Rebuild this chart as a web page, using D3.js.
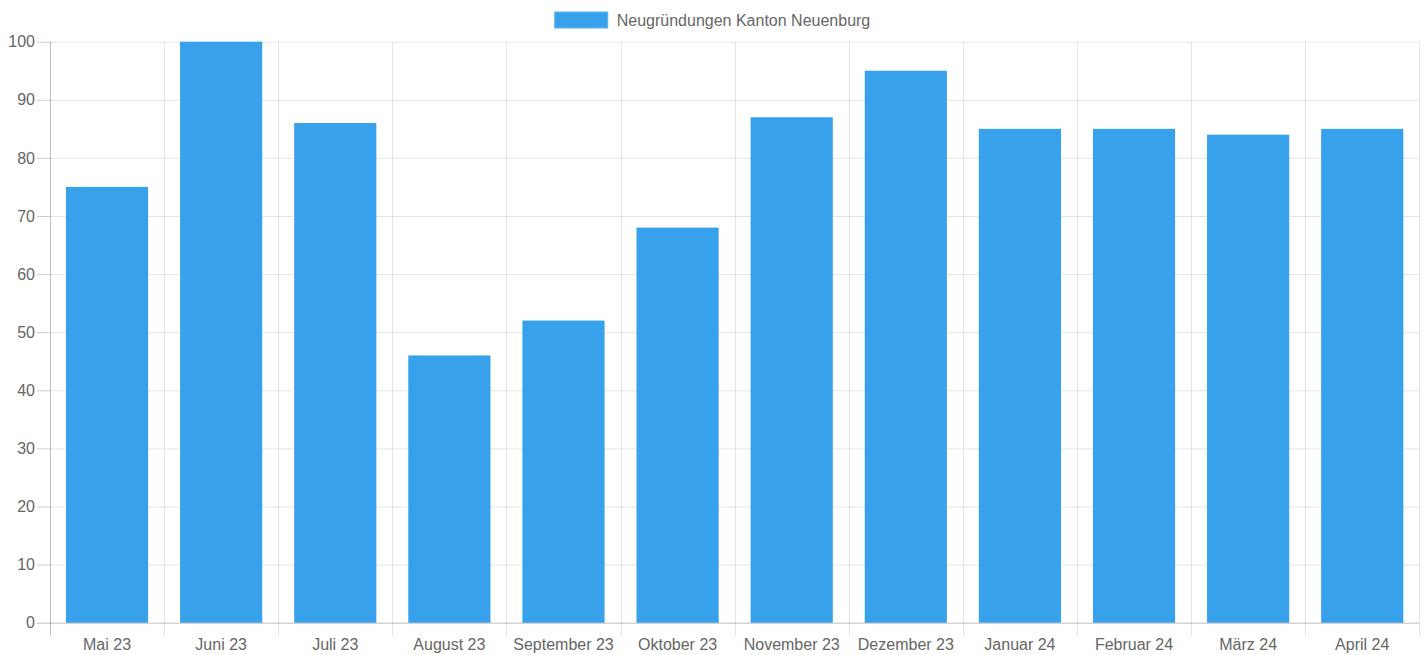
<!DOCTYPE html>
<html>
<head>
<meta charset="utf-8">
<script src="https://cdn.jsdelivr.net/npm/d3@7"></script>
<style>
  body { margin: 0; background: #fff; }
  svg { display: block; font-family: "Helvetica Neue", Helvetica, Arial, "Liberation Sans", sans-serif; }
</style>
</head>
<body>
<svg id="chart" width="1425" height="655"></svg>
<script>
const months = ['Mai 23', 'Juni 23', 'Juli 23', 'August 23', 'September 23', 'Oktober 23',
  'November 23', 'Dezember 23', 'Januar 24', 'Februar 24', 'März 24', 'April 24']
const counts = [75, 100, 86, 46, 52, 68, 87, 95, 85, 85, 84, 85]
const yTicks = [0, 10, 20, 30, 40, 50, 60, 70, 80, 90, 100]
const seriesName = 'Neugründungen Kanton Neuenburg'

const W = 1425
const H = 655
const margin = { top: 41.7, right: 5.7, bottom: 32.3, left: 50 }
const w = W - margin.left - margin.right
const h = H - margin.top - margin.bottom
const barColor = '#37a2eb'
const gridColor = 'rgba(0,0,0,0.1)'
const axisColor = 'rgba(0,0,0,0.25)'
const textColor = '#666'

const svg = d3.select('#chart')
const g = svg.append('g').attr('transform', `translate(${margin.left},${margin.top})`)

const x = d3.scaleBand().domain(months).range([0, w]).padding(0)
const y = d3.scaleLinear().domain([0, 100]).range([h, 0])

// 水平网格线
g.append('g')
  .selectAll('line')
  .data(yTicks.filter(t => t !== 0))
  .enter()
  .append('line')
  .attr('x1', -13)
  .attr('x2', w)
  .attr('y1', d => y(d) + 0.5)
  .attr('y2', d => y(d) + 0.5)
  .attr('stroke', gridColor)

// 垂直网格线（类别边界）
const bounds = months.map(m => x(m)).concat([w])
g.append('g')
  .selectAll('line')
  .data(bounds.slice(1))
  .enter()
  .append('line')
  .attr('x1', d => Math.round(d) + 0.5)
  .attr('x2', d => Math.round(d) + 0.5)
  .attr('y1', 0)
  .attr('y2', h + 13)
  .attr('stroke', gridColor)

// 柱子
g.append('g')
  .selectAll('rect')
  .data(counts)
  .enter()
  .append('rect')
  .attr('x', (d, i) => x(months[i]) + x.bandwidth() * 0.14)
  .attr('width', x.bandwidth() * 0.72)
  .attr('y', d => y(d))
  .attr('height', d => h - y(d))
  .attr('fill', barColor)

// 坐标轴
const yAxis = g.append('g')
  .call(d3.axisLeft(y).tickValues(yTicks).tickSize(13).tickPadding(2))
yAxis.select('.domain').remove()
yAxis.selectAll('.tick line').attr('stroke', gridColor)
yAxis.selectAll('.tick').filter(d => d === 0).select('line').attr('stroke', axisColor)
yAxis.selectAll('text')
  .attr('fill', textColor)
  .attr('font-size', 16)
  .attr('font-family', null)

g.append('line')
  .attr('x1', 0.5).attr('x2', 0.5)
  .attr('y1', 0).attr('y2', h + 13)
  .attr('stroke', axisColor)
g.append('line')
  .attr('x1', 0).attr('x2', w)
  .attr('y1', h + 0.5).attr('y2', h + 0.5)
  .attr('stroke', axisColor)

const xAxis = g.append('g')
  .attr('transform', `translate(0,${h})`)
  .call(d3.axisBottom(x).tickSize(0).tickPadding(16))
xAxis.select('.domain').remove()
xAxis.selectAll('text')
  .attr('fill', textColor)
  .attr('font-size', 16)
  .attr('font-family', null)

// 图例
const legend = svg.append('g')
const legendText = legend.append('text')
  .attr('x', 62)
  .attr('y', 20)
  .attr('dy', '0.35em')
  .attr('font-size', 16)
  .attr('fill', textColor)
  .text(seriesName)
legend.append('rect')
  .attr('x', 0)
  .attr('y', 12)
  .attr('width', 53)
  .attr('height', 16)
  .attr('fill', barColor)
  .attr('stroke', '#5cb3ef')
  .attr('stroke-width', 1)
const legendW = 62 + legendText.node().getComputedTextLength()
legend.attr('transform', `translate(${(W - legendW) / 2},0)`)
</script>
</body>
</html>
